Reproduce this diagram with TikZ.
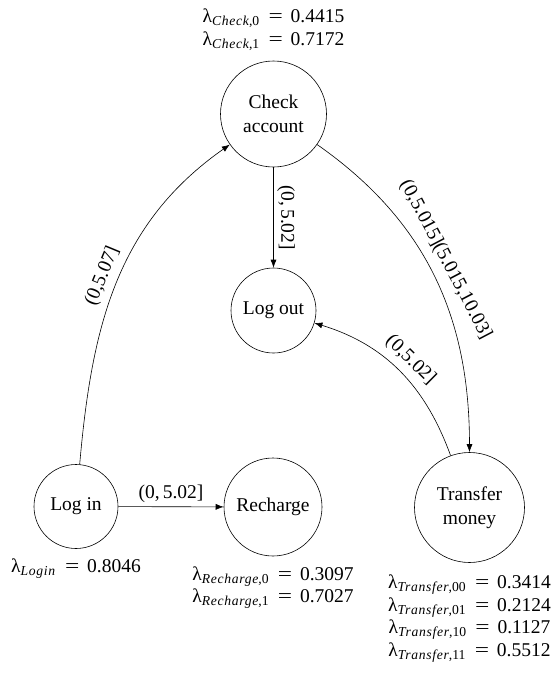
\documentclass[tikz,border=0pt]{standalone}
\usepackage{fontspec}
\setmainfont{Liberation Serif}
\usetikzlibrary{arrows.meta, positioning}

\newcommand{\lam}[2]{λ\textsubscript{\textit{\addfontfeature{LetterSpace=5.0}#1}#2}}
\newcommand{\eq}{\hspace{0.45em}\scalebox{1.3}[1]{=}\hspace{0.4em}}

\begin{document}
\begin{tikzpicture}[
    >={Latex[length=8pt,width=6pt]},
    x=1pt, y=1pt,
    every node/.style={font=\fontsize{19.5}{24.5}\selectfont},
    state/.style={circle, draw, line width=0.6pt, align=center, inner sep=0pt},
    rates/.style={align=center, inner sep=0pt, font=\fontsize{19.5}{22.5}\selectfont},
    arc/.style={->, line width=0.6pt}
]
\useasboundingbox (0,0) rectangle (558,-673);

% States
\node[state, minimum size=106pt] (check) at (273.5,-114) {Check\\account};
\node[state, minimum size=85pt] (logout) at (273.5,-310.5) {Log out};
\node[state, minimum size=84pt] (login) at (76,-506.5) {Log in};
\node[state, minimum size=98pt] (recharge) at (273,-507) {Recharge};
\node[state, minimum size=110pt] (transfer) at (469.5,-507.5) {Transfer\\money};

% Rates
\node[rates, above=10pt of check] (checkrate) {\lam{Check}{,0}\eq 0.4415\\\lam{Check}{,1}\eq 0.7172};
\node[rates, below=10pt of login] (loginrate) {\lam{Login}{}\eq 0.8046};
\node[rates, below=10pt of recharge] (rechargerate) {\lam{Recharge}{,0}\eq 0.3097\\\lam{Recharge}{,1}\eq 0.7027};
\node[rates, below=12pt of transfer] (transferrate) {\lam{Transfer}{,00}\eq 0.3414\\\lam{Transfer}{,01}\eq 0.2124\\\lam{Transfer}{,10}\eq 0.1127\\\lam{Transfer}{,11}\eq 0.5512};

% Transitions
\draw[arc] (login) to[out=85, in=215] node[pos=0.5, sloped, above=3pt] {(0,5.07]} (check);
\draw[arc] (check) -- node[midway, sloped, above] {(0,\,5.02]} (logout);
\draw[arc] (check) to[out=-35, in=90] node[pos=0.47, sloped, above=5pt] {(0,5.015](5.015,10.03]} (transfer);
\draw[arc] (transfer) to[out=110, in=-17] node[pos=0.5, sloped, above=3pt] {(0,5.02]} (logout);
\draw[arc] (login) -- node[above] {(0,\,5.02]} (recharge);

\end{tikzpicture}
\end{document}
